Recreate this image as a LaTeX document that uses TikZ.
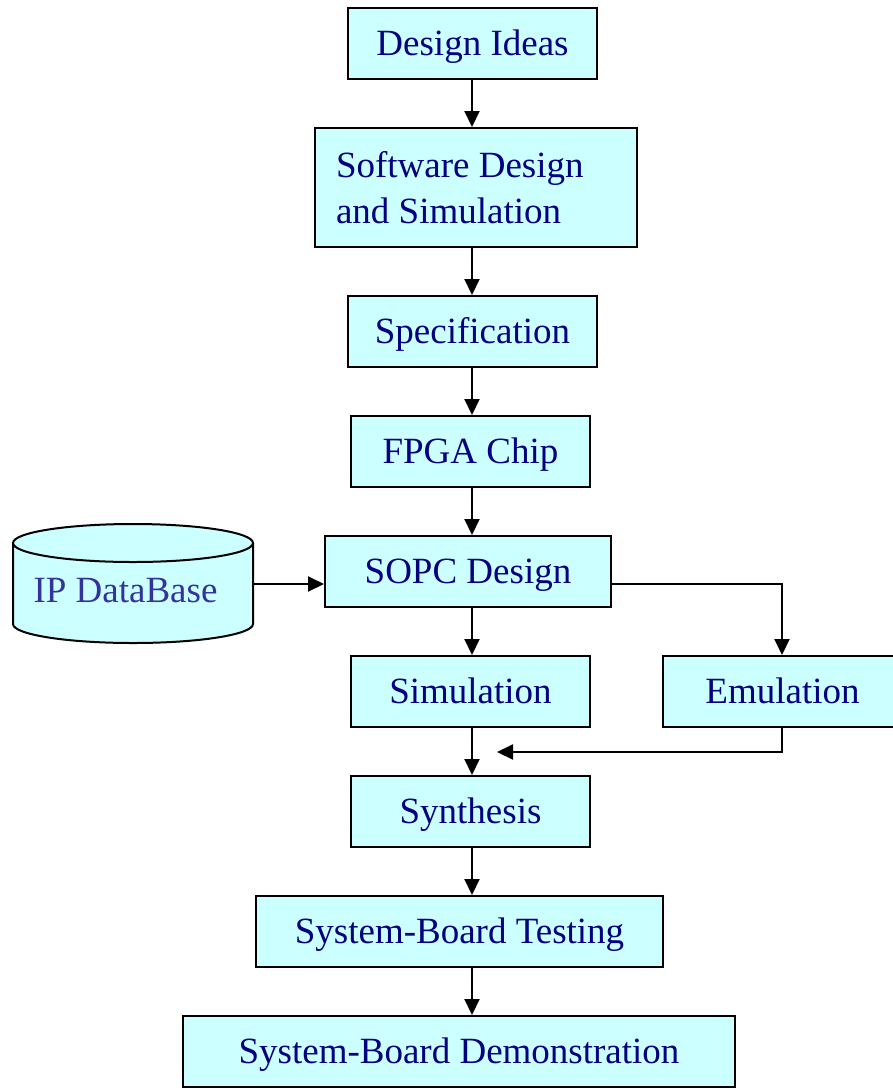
\documentclass[tikz,border=0pt]{standalone}
\usepackage{fontspec}
\setmainfont{Liberation Serif}
\usetikzlibrary{arrows.meta}
\definecolor{boxfill}{HTML}{CCFFFF}
\definecolor{boxtext}{HTML}{000080}
\definecolor{dbtext}{HTML}{333399}
\tikzset{
  stepbox/.style={draw=black, line width=2pt, fill=boxfill, text=boxtext,
    font=\fontsize{37}{46}\selectfont, minimum height=71pt, inner sep=0pt,
    text height=28pt, text depth=4pt},
  flow/.style={draw=black, line width=2pt, -{Triangle[length=16pt,width=15pt]}},
}
\begin{document}
\begin{tikzpicture}[x=1pt,y=-1pt]
\useasboundingbox (0,0) rectangle (893,1088);

% main chain of steps
\node[stepbox, minimum width=249] (ideas) at (472.5,43.5) {Design Ideas};
\node[stepbox, minimum width=322, minimum height=119, align=flush left,
      text width=280, inner xsep=21pt, text height=, text depth=] (sw) at (476,187.5)
      {Software Design\\and Simulation};
\node[stepbox, minimum width=249] (spec) at (472.5,331.5) {Specification};
\node[stepbox, minimum width=239] (fpga) at (470.5,451.5) {FPGA Chip};
\node[stepbox, minimum width=286] (sopc) at (468,571.5) {SOPC Design};
\node[stepbox, minimum width=239] (sim) at (470.5,691.5) {Simulation};
\node[stepbox, minimum width=239] (emu) at (782.5,691.5) {Emulation};
\node[stepbox, minimum width=239] (synth) at (470.5,811.5) {Synthesis};
\node[stepbox, minimum width=407] (test) at (459.5,931.5) {System-Board Testing};
\node[stepbox, minimum width=552] (demo) at (459,1051.5) {System-Board Demonstration};

% IP database cylinder
\fill[boxfill] (13,543) -- (13,624) arc[start angle=180, end angle=0, x radius=120, y radius=19]
  -- (253,543) -- cycle;
\draw[line width=2pt] (13,543) -- (13,624) arc[start angle=180, end angle=0, x radius=120, y radius=19]
  -- (253,543);
\draw[line width=2pt, fill=boxfill] (133,543) ellipse[x radius=120, y radius=19];
\node[text=dbtext, font=\fontsize{37}{45}\selectfont, inner sep=0pt,
      text height=28pt, text depth=4pt] (ipdb) at (125.5,590) {IP DataBase};
\coordinate (ipdbR) at (253,584);

% connectors
\draw[flow] (ideas.south -| 472,0) -- (sw.north -| 472,0);
\draw[flow] (sw.south -| 472,0) -- (spec.north -| 472,0);
\draw[flow] (spec.south -| 472,0) -- (fpga.north -| 472,0);
\draw[flow] (fpga.south -| 472,0) -- (sopc.north -| 472,0);
\draw[flow] (sopc.south -| 472,0) -- (sim.north -| 472,0);
\draw[flow] (sim.south -| 472,0) -- (synth.north -| 472,0);
\draw[flow] (synth.south -| 472,0) -- (test.north -| 472,0);
\draw[flow] (test.south -| 472,0) -- (demo.north -| 472,0);
\draw[flow] (ipdbR) -- (ipdbR -| sopc.west);

\coordinate (split) at (782,584);
\draw[flow] (sopc.east |- split) -- (split) -- (split |- emu.north);
\coordinate (back) at (782,752);
\coordinate (backend) at (497,752);
\draw[flow] (back |- emu.south) -- (back) -- (backend);
\end{tikzpicture}
\end{document}
